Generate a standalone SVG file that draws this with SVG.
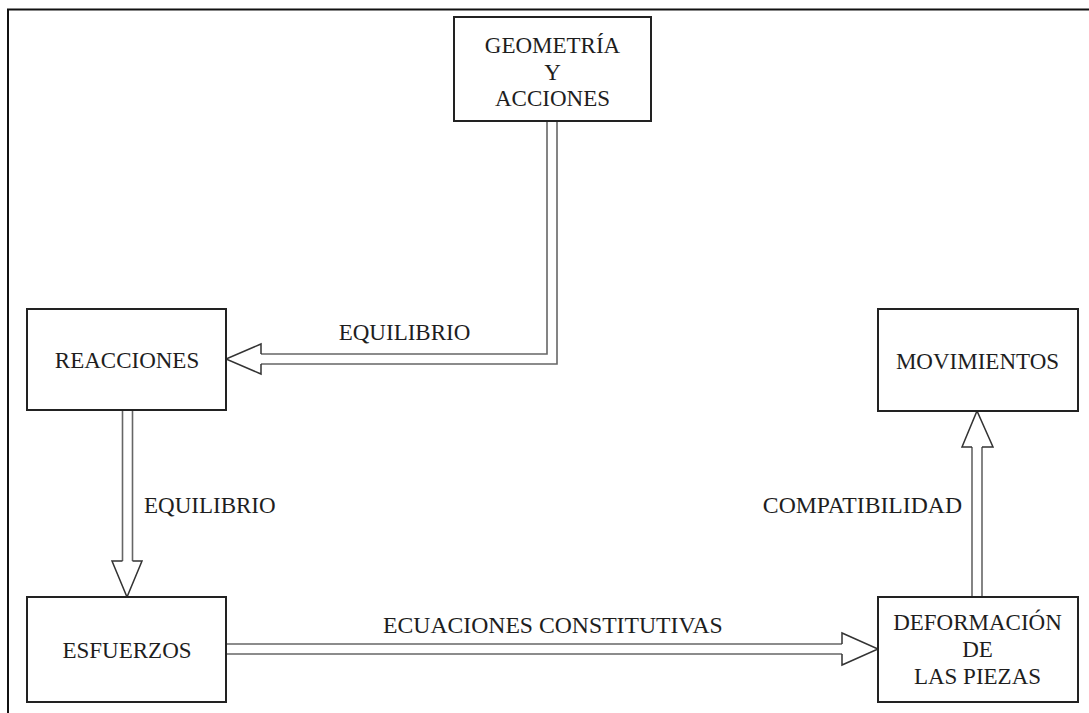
<svg xmlns="http://www.w3.org/2000/svg" width="1089" height="713" viewBox="0 0 1089 713">
<style>
.frame{fill:none;stroke:#111;stroke-width:2}
.box{fill:#fff;stroke:#222;stroke-width:2}
.shaft{fill:none;stroke:#666;stroke-width:1.6}
.head{fill:#fff;stroke:#333;stroke-width:1.5;stroke-linejoin:miter}
text{font-family:"Liberation Serif","Times New Roman",serif;font-size:23px;fill:#1e1e1e}
.c{text-anchor:middle}
</style>
<rect width="1089" height="713" fill="#fff"/>
<path class="frame" d="M8,713 V9.5 H1089"/>
<g id="connectors">
  <g id="c-geometria-reacciones">
    <path class="shaft" d="M547,121 V354 H261"/>
    <path class="shaft" d="M557,121 V364 H261"/>
    <path class="head" d="M261,354 V344 L226,359 L261,374 V364"/>
    <text x="404.5" y="339.5" class="c">EQUILIBRIO</text>
  </g>
  <g id="c-reacciones-esfuerzos">
    <path class="shaft" d="M122.5,410 V561"/>
    <path class="shaft" d="M132.5,410 V561"/>
    <path class="head" d="M122.5,561 H112 L127,597 L142,561 H132.5"/>
    <text x="144" y="513">EQUILIBRIO</text>
  </g>
  <g id="c-esfuerzos-deformacion">
    <path class="shaft" d="M226,644 H842"/>
    <path class="shaft" d="M226,654 H842"/>
    <path class="head" d="M842,644 V633 L878,649 L842,665 V654"/>
    <text x="383" y="633" style="font-size:23.7px">ECUACIONES CONSTITUTIVAS</text>
  </g>
  <g id="c-deformacion-movimientos">
    <path class="shaft" d="M972,597 V447"/>
    <path class="shaft" d="M982,597 V447"/>
    <path class="head" d="M972,447 H962 L977,411 L993,447 H982"/>
    <text x="962" y="513" style="font-size:23.7px;text-anchor:end">COMPATIBILIDAD</text>
  </g>
</g>
<g id="n-geometria">
  <rect class="box" x="454" y="17" width="197" height="104"/>
  <text x="552.5" y="53" class="c">GEOMETRÍA</text>
  <text x="552.5" y="80" class="c">Y</text>
  <text x="552.5" y="106" class="c">ACCIONES</text>
</g>
<g id="n-reacciones">
  <rect class="box" x="27" y="309" width="199" height="101"/>
  <text x="127" y="368" class="c">REACCIONES</text>
</g>
<g id="n-esfuerzos">
  <rect class="box" x="27" y="597" width="199" height="105"/>
  <text x="127" y="658" class="c">ESFUERZOS</text>
</g>
<g id="n-movimientos">
  <rect class="box" x="878" y="309" width="200" height="102"/>
  <text x="977.5" y="369" class="c">MOVIMIENTOS</text>
</g>
<g id="n-deformacion">
  <rect class="box" x="878" y="597" width="200" height="105"/>
  <text x="977.5" y="630" class="c">DEFORMACIÓN</text>
  <text x="977.5" y="657" class="c">DE</text>
  <text x="977.5" y="684" class="c">LAS PIEZAS</text>
</g>
</svg>
